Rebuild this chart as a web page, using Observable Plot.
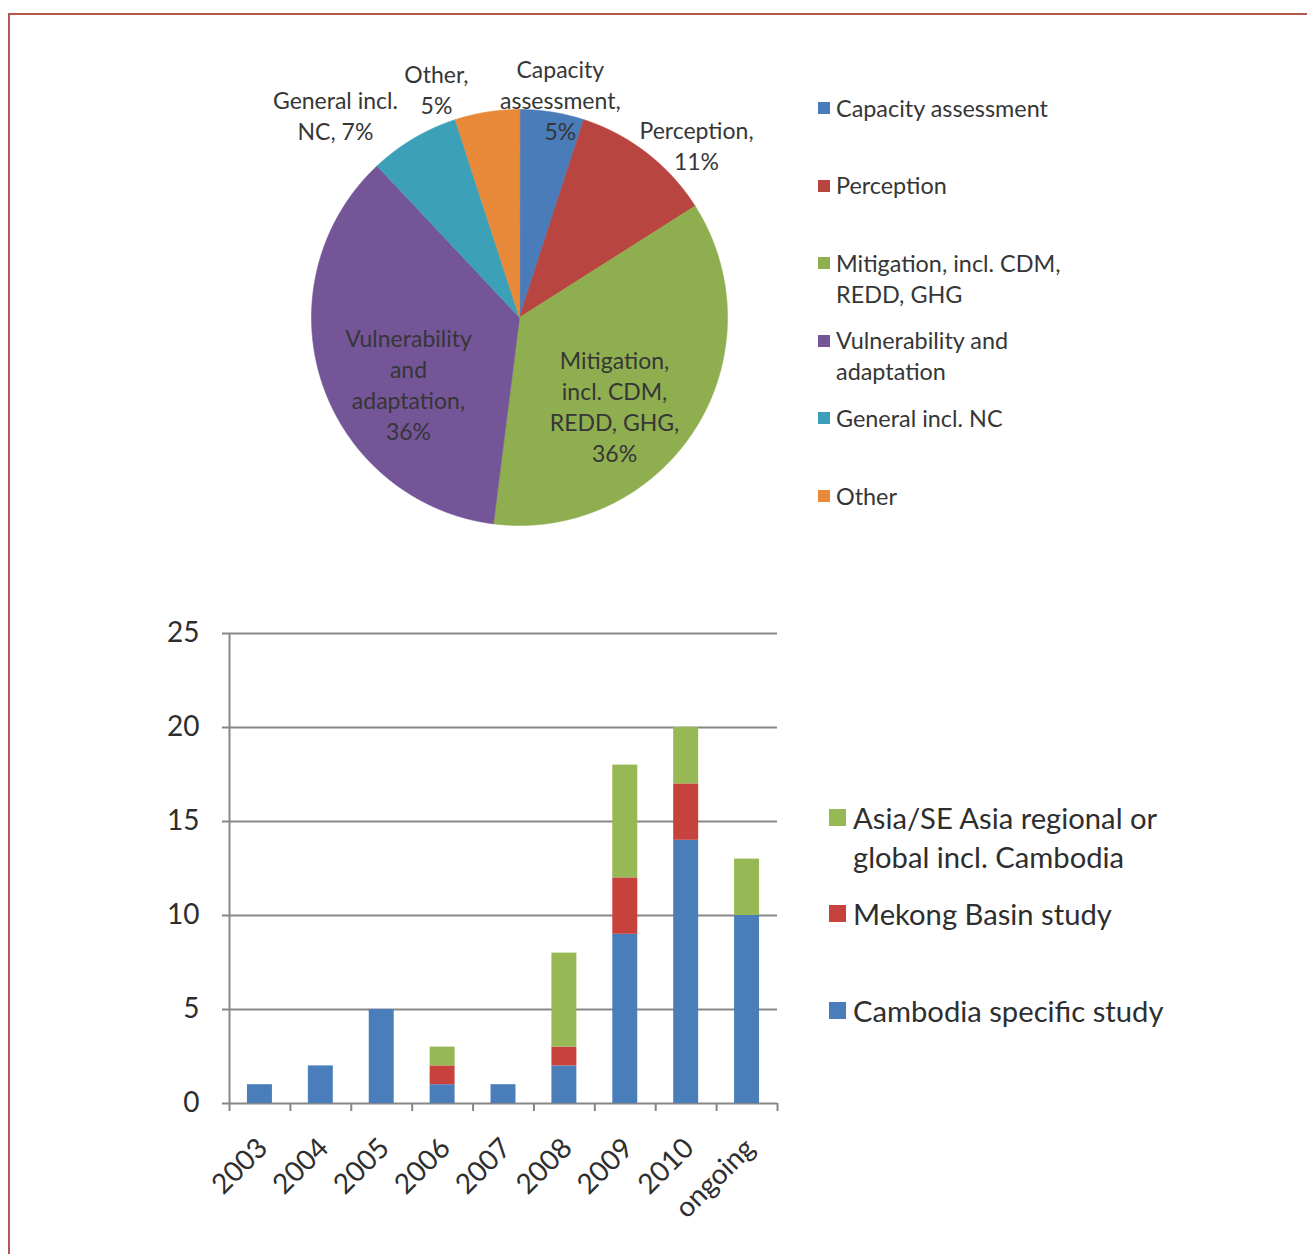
<!DOCTYPE html>
<html><head><meta charset="utf-8">
<script src="https://cdn.jsdelivr.net/npm/d3@7"></script>
<script src="https://cdn.jsdelivr.net/npm/@observablehq/plot@0.6"></script>
<style>
body{margin:0;background:#fff;font-family:Lato,"Open Sans",sans-serif;}
#page{position:relative;width:1307px;height:1254px;overflow:hidden;background:#fff;}
#frame{position:absolute;left:8px;top:13px;width:1400px;height:1400px;border-top:2px solid #b5584b;border-left:2px solid #b5584b;}
.holder{position:absolute;}
.legtext{position:absolute;color:#363636;white-space:pre;font-family:Lato,sans-serif;}
.sw{position:absolute;}
</style></head><body><div id="page"><div id="frame"></div>
<div id="pie" class="holder" style="left:239px;top:57px;"></div>
<div id="bar" class="holder" style="left:150px;top:610px;"></div>
</div>
<script>
// ---------- data ----------
const pieCategories = ["Capacity assessment","Perception","Mitigation, incl. CDM, REDD, GHG","Vulnerability and adaptation","General incl. NC","Other"];
const piePercent = [5, 11, 36, 36, 7, 5];
const pieLabels = ["Capacity\nassessment,\n5%","Perception,\n11%","Mitigation,\nincl. CDM,\nREDD, GHG,\n36%","Vulnerability\nand\nadaptation,\n36%","General incl.\nNC, 7%","Other,\n5%"];
const pieLegendLabels = ["Capacity assessment","Perception","Mitigation, incl. CDM,\nREDD, GHG","Vulnerability and\nadaptation","General incl. NC","Other"];

const years = ["2003","2004","2005","2006","2007","2008","2009","2010","ongoing"];
const cambodiaSpecific = [1, 2, 5, 1, 1, 2, 9, 14, 10];
const mekongBasin = [0, 0, 0, 1, 0, 1, 3, 3, 0];
const asiaRegional = [0, 0, 0, 1, 0, 5, 6, 3, 3];
const barSeries = ["Cambodia specific study","Mekong Basin study","Asia/SE Asia regional or global incl. Cambodia"];
const barLegendLabels = ["Asia/SE Asia regional or\nglobal incl. Cambodia","Mekong Basin study","Cambodia specific study"];
const yTicks = [0, 5, 10, 15, 20, 25];

// ---------- styles ----------
const pieColors = ["#4a7cba","#b8453f","#8fae50","#745598","#3ca0b8","#e8893a"];
const barColors = ["#4a7ebb","#c8423d","#96b955"];
const labelRadius = [1.057, 1.183, 0.63, 0.626, 1.31, 1.162];
const labelNudgeDeg = [1.7, 8.2, 11.1, -13.5, -11.9, -11.1];
const textColor = "#363636";

// ---------- pie ----------
const arcs = d3.pie().sort(null).value(d => d)(piePercent);
const piePts = [];
arcs.forEach((a, i) => {
  const key = pieCategories[i];
  piePts.push({key, x: 0, y: 0});
  const n = Math.ceil((a.endAngle - a.startAngle) / (Math.PI / 720));
  for (let k = 0; k <= n; k++) {
    const t = a.startAngle + (a.endAngle - a.startAngle) * k / n;
    piePts.push({key, x: Math.sin(t), y: Math.cos(t)});
  }
});
const pieLabelData = arcs.map((a, i) => {
  const t = (a.startAngle + a.endAngle) / 2 + labelNudgeDeg[i] * Math.PI / 180;
  return {text: pieLabels[i], x: labelRadius[i] * Math.sin(t), y: labelRadius[i] * Math.cos(t)};
});
const R = 208, PW = 560, PH = 520;
const pie = Plot.plot({
  width: PW, height: PH, margin: 0,
  x: {domain: [-PW / 2 / R, PW / 2 / R], axis: null},
  y: {domain: [-PH / 2 / R, PH / 2 / R], axis: null},
  color: {domain: pieCategories, range: pieColors},
  style: {background: "transparent", overflow: "visible"},
  marks: [
    Plot.line(piePts, {x: "x", y: "y", z: "key", fill: "key", stroke: "key", strokeWidth: 0.6, curve: "linear-closed"}),
    Plot.text(pieLabelData, {x: "x", y: "y", text: "text", fontSize: 23, lineHeight: 31 / 23, dy: -2, fill: textColor, fontFamily: "Lato"})
  ]
});
document.getElementById("pie").appendChild(pie);

// pie legend
const page = document.getElementById("page");
pieLegendLabels.forEach((lab, i) => {
  const cy = 108 + i * 77.6;
  const sw = document.createElement("div");
  sw.className = "sw";
  Object.assign(sw.style, {left: "818px", top: (cy - 6) + "px", width: "12px", height: "12px", background: pieColors[i]});
  page.appendChild(sw);
  const t = document.createElement("div");
  t.className = "legtext";
  t.textContent = lab;
  Object.assign(t.style, {left: "836px", top: (cy - 15.5) + "px", fontSize: "23.4px", lineHeight: "31px"});
  page.appendChild(t);
});

// ---------- bars ----------
const rows = years.map((y, i) => ({i, year: y, c: cambodiaSpecific[i], m: mekongBasin[i], a: asiaRegional[i]}));
const stacked = d3.stack().keys(["c", "m", "a"])(rows);
const rects = [];
stacked.forEach((s, si) => s.forEach(p => {
  if (p[1] > p[0]) rects.push({i: p.data.i, series: barSeries[si], y1: p[0], y2: p[1]});
}));
const half = 0.205;
const bar = Plot.plot({
  width: 660, height: 620,
  marginLeft: 79, marginTop: 23, marginRight: 33, marginBottom: 127,
  x: {type: "linear", domain: [0, years.length]},
  y: {domain: [0, 25]},
  color: {domain: barSeries, range: barColors},
  style: {background: "transparent", overflow: "visible", fontFamily: "Lato"},
  marks: [
    Plot.ruleY(yTicks, {stroke: "#878787", strokeWidth: 2}),
    Plot.rect(rects, {x1: d => d.i + 0.5 - half, x2: d => d.i + 0.5 + half, y1: "y1", y2: "y2", fill: "series"}),
    Plot.ruleX([0], {y1: 0, y2: 25, stroke: "#878787", strokeWidth: 2}),
    Plot.axisY({ticks: yTicks, tickSize: 7, tickPadding: 23, fontSize: 28, stroke: "#878787", fill: "#2e2e2e", tickFormat: d => String(d), strokeWidth: 2}),
    Plot.axisX({ticks: d3.range(years.length + 1), tickSize: 8, tickFormat: () => "", stroke: "#878787", strokeWidth: 2}),
    Plot.text(years, {x: (d, i) => i + 0.5, frameAnchor: "bottom", text: d => d, rotate: -45, textAnchor: "end", lineAnchor: "middle", dx: 3, dy: 40, fontSize: 28, fill: "#2e2e2e", fontFamily: "Lato"})
  ]
});
document.getElementById("bar").appendChild(bar);

// bar legend (top to bottom: Asia, Mekong, Cambodia)
const barLegendColors = [barColors[2], barColors[1], barColors[0]];
barLegendLabels.forEach((lab, i) => {
  const cy = 817 + i * 96.5;
  const sw = document.createElement("div");
  sw.className = "sw";
  Object.assign(sw.style, {left: "829px", top: (cy - 8.5) + "px", width: "17px", height: "17px", background: barLegendColors[i]});
  page.appendChild(sw);
  const t = document.createElement("div");
  t.className = "legtext";
  t.textContent = lab;
  Object.assign(t.style, {left: "853px", top: (cy - 19.5) + "px", fontSize: "29.2px", lineHeight: "39px", color: "#2e2e2e"});
  page.appendChild(t);
});
</script></body></html>
